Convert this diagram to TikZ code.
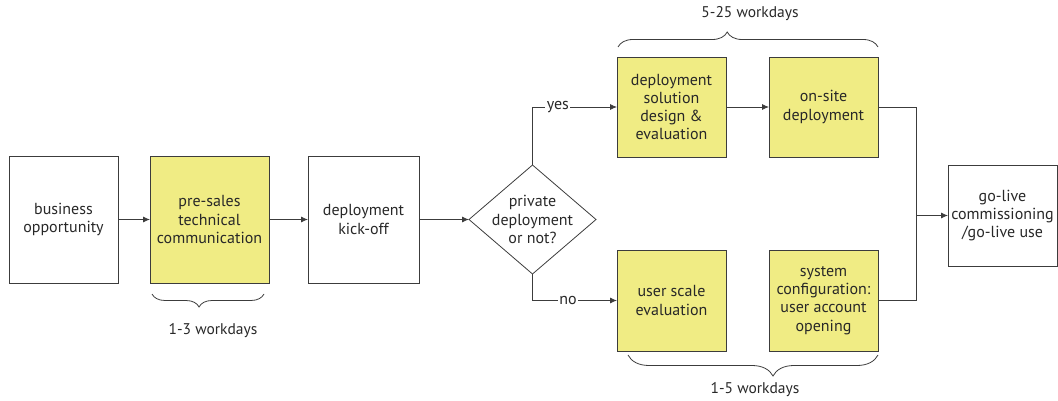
\documentclass[tikz,border=0pt]{standalone}
\usepackage{fontspec}
\setmainfont{PT Sans}
\usetikzlibrary{calc,shapes.geometric,arrows.meta,decorations.pathreplacing}

\definecolor{stepyellow}{RGB}{240,236,132}
\definecolor{linegray}{RGB}{60,60,60}
\definecolor{textgray}{RGB}{40,40,40}

\begin{document}
\begin{tikzpicture}[x=1pt,y=-1pt,inner sep=0pt,outer sep=0pt,
    every node/.style={font=\fontsize{16}{18.3}\selectfont,text=textgray,align=center},
    stepbox/.style={draw=linegray,line width=0.8pt,minimum width=109pt,minimum height=127pt},
    workbox/.style={stepbox,fill=stepyellow},
    flow/.style={draw=linegray,line width=0.8pt,-{Latex[length=7pt,width=6pt]}},
    link/.style={draw=linegray,line width=0.8pt},
    days/.style={font=\fontsize{15.5}{18}\selectfont},
    span/.style={draw=linegray,line width=0.8pt,decorate,
        decoration={brace,aspect=0.42,amplitude=#1}}]
    \useasboundingbox (0,0) rectangle (1058,401);

    % first row
    \node[stepbox] (biz) at (63.5,219.5) {business\\opportunity};
    \node[workbox,minimum width=119pt] (presales) at (209.5,219.5)
    {pre-sales\\technical\\communication};
    \node[stepbox,minimum width=111pt] (kickoff) at (363.5,219.5)
    {deployment\\kick-off};

    % decision
    \node[draw=linegray,line width=0.8pt,shape=diamond,shape aspect=1.165,
    inner sep=-8pt,minimum width=127pt,minimum height=109pt] (private)
    at (532.5,219.5) {private\\deployment\\or not?};

    % yes branch
    \node[workbox,minimum height=100pt] (design) at (671.5,107)
    {deployment\\solution\\design \&\\evaluation};
    \node[workbox,minimum height=100pt] (onsite) at (823.5,107)
    {on-site\\deployment};

    % no branch
    \node[workbox,minimum height=101pt] (scale) at (671.5,300.5)
    {user scale\\evaluation};
    \node[workbox,minimum height=101pt] (config) at (823.5,300.5)
    {system\\configuration:\\user account\\opening};

    % go-live
    \node[stepbox,minimum height=101pt] (golive) at (1002.5,215.5)
    {go-live\\commissioning\\/go-live use};
    \coordinate (merge) at (916,215.5);

    % connectors
    \draw[flow] (biz) -- (presales);
    \draw[flow] (presales) -- (kickoff);
    \draw[flow] (kickoff) -- (private);
    \draw[flow] (private.north) |- node[pos=0.65,fill=white,inner xsep=1.5pt,inner ysep=1pt]
    {yes} (design.west);
    \draw[flow] (private.south) |- node[pos=0.71,fill=white,inner xsep=1.5pt,inner ysep=1pt]
    {no} (scale.west);
    \draw[flow] (design) -- (onsite);
    \draw[link] (onsite.east) -| (merge);
    \draw[link] (config.east) -| (merge);
    \draw[flow] (merge) -- (golive.west);

    % durations
    \draw[span=13pt,decoration={mirror}] ($(presales.south west)+(2pt,-11pt)$)
    -- ($(presales.south east)+(-5pt,-11pt)$);
    \node[days] (pre_days) at (213,331) {1-3 workdays};
    \draw[span=15pt] ($(design.north west)+(1pt,10pt)$)
    -- ($(onsite.north east)+(0pt,10pt)$);
    \node[days] (top_days) at (750,14) {5-25 workdays};
    \draw[span=21pt] ($(config.south east)+(0pt,-4pt)$)
    -- ($(scale.south west)+(11pt,-4pt)$);
    \node[days] (bottom_days) at (755,390) {1-5 workdays};
\end{tikzpicture}
\end{document}
